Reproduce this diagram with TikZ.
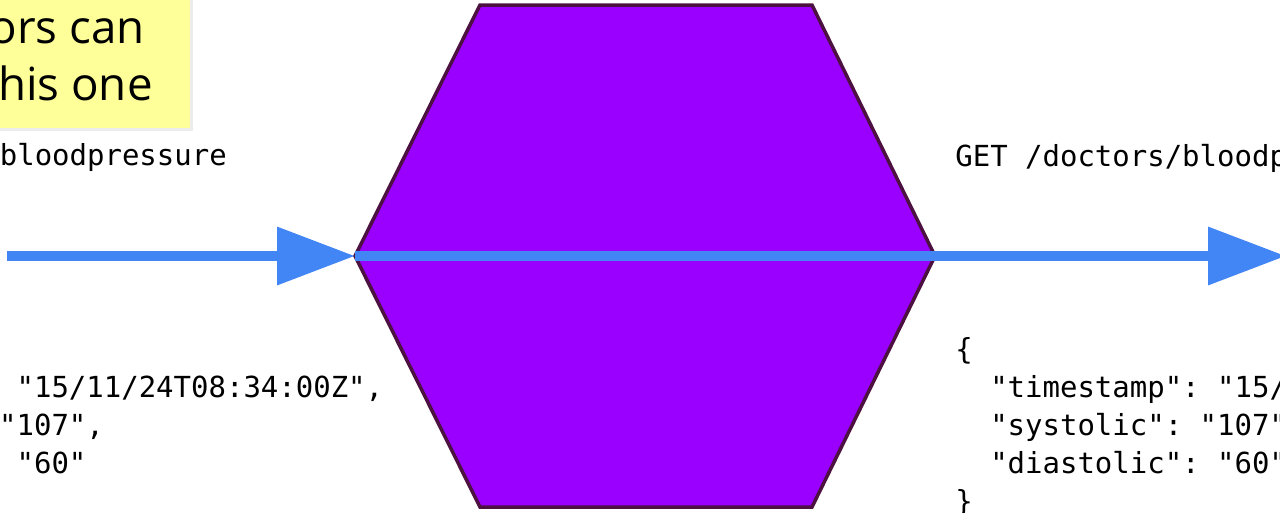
\documentclass[tikz,border=0pt]{standalone}
\usepackage{fontspec}
\setmonofont{DejaVu Sans Mono}
\newfontfamily\notefont{Open Sans}
\usepackage{tikz}
\usetikzlibrary{arrows.meta,positioning}
\definecolor{flowblue}{RGB}{66,133,244}
\definecolor{hexpurple}{RGB}{153,0,255}
\definecolor{hexedge}{RGB}{76,17,64}
\definecolor{noteyellow}{RGB}{255,255,153}
\definecolor{noteshade}{RGB}{236,236,236}
\tikzset{
    flow/.style={flowblue, line width=0.2cm, -{Triangle[length=1.56cm,width=1.12cm]}},
    code/.style={font=\fontsize{16.5pt}{20pt}\selectfont\ttfamily, anchor=base west, inner sep=0pt},
    notetext/.style={font=\fontsize{26pt}{32pt}\selectfont\notefont, anchor=base east, inner sep=0pt}
}

\begin{document}
\begin{tikzpicture}[x=0.02cm, y=-0.02cm]
        \useasboundingbox (0,0) rectangle (1280,512);
        \clip (0,0) rectangle (1280,512);
        % Note
        \fill[noteshade] (-10,-10) rectangle (193,131);
        \fill[noteyellow] (-10,-10) rectangle (190,128);
        \node[notetext] (note1) at (145,43) {ors can};
        \node[notetext] (note2) at (153,100) {his one};
        % Service
        \coordinate (hexW) at (355,256);
        \coordinate (hexE) at (935,256);
        \draw[hexedge, fill=hexpurple, line width=0.07cm] (hexW) -- (480,5) -- (812,5) -- (hexE)
            -- (812,507) -- (480,507) -- cycle;
        % Flows
        \coordinate (src) at (7,256);
        \coordinate (sink) at (1286,256);
        \draw[flow] (src) -- (hexW);
        \draw[flow] (hexW) -- (sink);
        % Requests
        \node[code] (postReq) at (-0.5,165) {bloodpressure};
        \node[code] (getReq) at (955,166) {GET /doctors/bloodpressure};
        \foreach \txt [count=\i from 0] in {{\{},{~~"timestamp": "15/11/24T08:34:00Z",},
                                           {~~"systolic": "107",},{~~"diastolic": "60"},{\}}} {
            \node[code] (postBody\i) at (-245.5,359+38*\i) {\txt};
            \node[code] (getBody\i) at (955,359+38*\i) {\txt};
        }
\end{tikzpicture}
\end{document}
